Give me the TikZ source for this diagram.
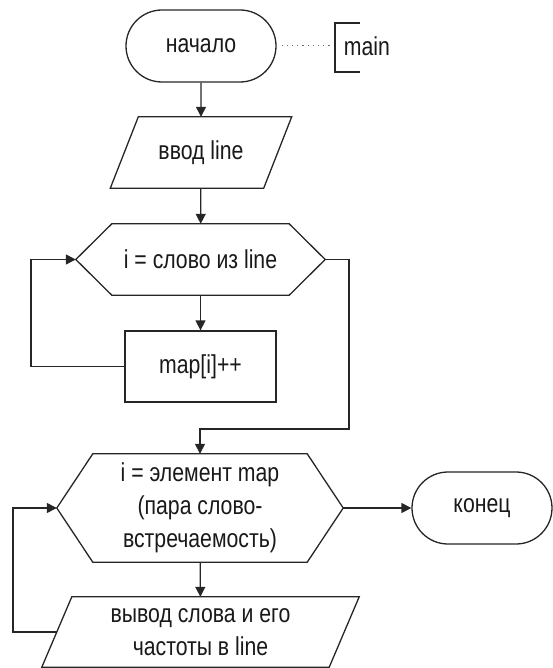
\documentclass[tikz,border=0pt]{standalone}
\usepackage{fontspec}
\setmainfont[FakeStretch=0.82]{Liberation Sans}
\usetikzlibrary{arrows.meta,shapes.misc,calc}

% outline of a decision/loop hexagon drawn around a rectangular node
\newcommand\hexframe[2]{%
  \draw[shapeline] (#1.west) -- ([xshift=#2]#1.north west) -- ([xshift=-#2]#1.north east)
    -- (#1.east) -- ([xshift=-#2]#1.south east) -- ([xshift=#2]#1.south west) -- cycle;}
% outline of an input/output parallelogram drawn around a rectangular node
\newcommand\ioframe[2]{%
  \draw[shapeline] ([xshift=#2]#1.north west) -- (#1.north east)
    -- ([xshift=-#2]#1.south east) -- (#1.south west) -- cycle;}

\begin{document}
\begin{tikzpicture}[x=1bp,y=-1bp,
  shapeline/.style={draw=black!85, line width=1.3bp},
  lbl/.style={font=\fontsize{26}{33}\selectfont, align=center, inner sep=0pt, text=black!90},
  term/.style={lbl, shapeline, rounded rectangle, minimum width=150bp, minimum height=72bp},
  proc/.style={lbl, shapeline, rectangle, minimum width=151bp, minimum height=71bp},
  plain/.style={lbl, rectangle},
  flow/.style={draw=black!85, line width=1.3bp, -{Triangle[length=10bp,width=10bp]}}
]
\useasboundingbox (0,0) rectangle (553,668);

% nodes
\node[term] (start) at (201,46) {начало};
\node[plain, minimum width=181bp, minimum height=71bp] (inp) at (201,152.5) {ввод line};
\ioframe{inp}{28bp}
\node[plain, minimum width=249bp, minimum height=71bp] (loop1) at (200.5,259.5) {i = слово из line};
\hexframe{loop1}{36bp}
\node[proc] (inc) at (200.5,366.5) {map[i]++};
\node[plain, minimum width=286bp, minimum height=108bp] (loop2) at (200,508)
  {i = элемент map\\(пара слово-\\встречаемость)};
\hexframe{loop2}{36bp}
\node[plain, minimum width=317bp, minimum height=70bp] (out) at (200.5,632)
  {вывод слова и его\\частоты в line};
\ioframe{out}{30bp}
\node[term, minimum width=140bp] (finish) at (482,508) {конец};

% comment attached to the start block
\node[plain] (main) at (367,46) {main};
\coordinate (brk) at (335,46);
\coordinate (brkt) at (360,23);
\coordinate (brkb) at (360,72);
\draw[draw=black!60, line width=1bp, dash pattern=on 1.2bp off 4bp, shorten <=5bp] (start.east) -- (brk);
\draw[shapeline] (brkt) -| (brk) |- (brkb);

% connectors
\coordinate (c1) at (31,259.5);
\coordinate (j1) at (349,429);
\coordinate (c2) at (13,508);
\draw[flow] (start) -- (inp);
\draw[flow] (inp) -- (loop1);
\draw[flow] (loop1) -- (inc);
\draw[flow] (inc.west) -| (c1) -- (loop1.west);
\draw[flow] (loop1.east) -| (j1) -| (loop2.north);
\draw[flow] (loop2) -- (out);
\draw[flow] ([xshift=15bp]out.west) -| (c2) -- (loop2.west);
\draw[flow] (loop2.east) -- (finish.west);
\end{tikzpicture}
\end{document}
